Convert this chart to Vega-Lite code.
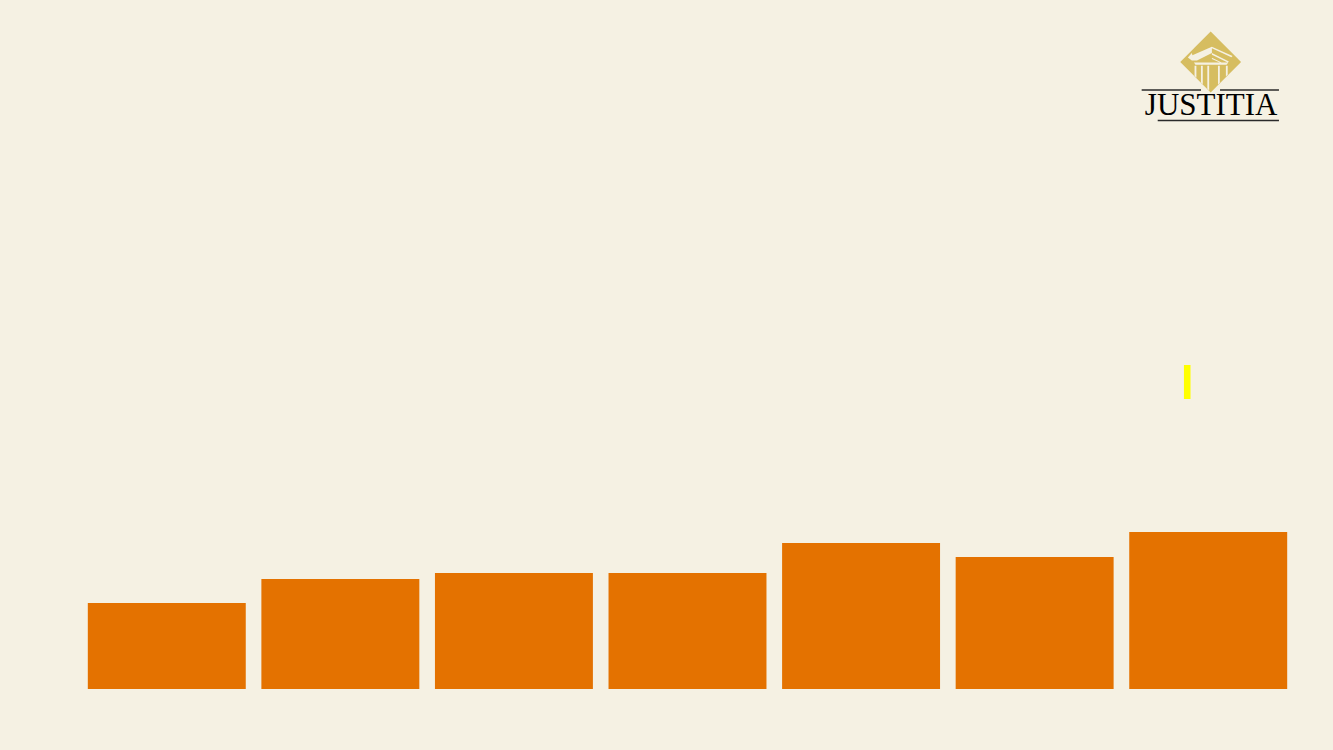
{
  "$schema": "https://vega.github.io/schema/vega-lite/v6.json",
  "width": 1215,
  "height": 689,
  "padding": {"left": 80, "top": 0, "right": 38, "bottom": 61},
  "autosize": {"type": "none"},
  "background": "#f5f1e3",
  "view": {"stroke": null},
  "config": {"axis": {"disable": true}},
  "resolve": {"scale": {"x": "independent"}},
  "layer": [
    {
      "data": {"values": [
        {"category": "A", "value": 8.6},
        {"category": "B", "value": 11.0},
        {"category": "C", "value": 11.6},
        {"category": "D", "value": 11.6},
        {"category": "E", "value": 14.6},
        {"category": "F", "value": 13.2},
        {"category": "G", "value": 15.7}
      ]},
      "mark": {"type": "bar", "color": "#e47200"},
      "encoding": {
        "x": {"field": "category", "type": "nominal", "scale": {"paddingInner": 0.09, "paddingOuter": 0.045}, "axis": null},
        "y": {"field": "value", "type": "quantitative", "scale": {"domain": [0, 68.9], "nice": false}, "axis": null}
      }
    },
    {
      "data": {"values": [
        {"a": 0.9086, "b": 0.914, "lo": 29.0, "hi": 32.4}
      ]},
      "mark": {"type": "rect", "color": "#ffff00"},
      "encoding": {
        "x": {"field": "a", "type": "quantitative", "scale": {"domain": [0, 1], "nice": false, "zero": false}, "axis": null},
        "x2": {"field": "b"},
        "y": {"field": "lo", "type": "quantitative", "axis": null},
        "y2": {"field": "hi"}
      }
    },
    {
      "data": {"values": [{"a": 0.9306, "v": 62.7}]},
      "mark": {"type": "point", "filled": true, "opacity": 1, "color": "#d6bd60", "size": 3700, "shape": "M0,-1L1,0L0,1L-1,0Z"},
      "encoding": {
        "x": {"field": "a", "type": "quantitative", "scale": {"domain": [0, 1], "nice": false, "zero": false}, "axis": null},
        "y": {"field": "v", "type": "quantitative", "axis": null}
      }
    },
    {
      "data": {"values": [{"a": 0.9306, "v": 62.7}]},
      "mark": {"type": "point", "filled": true, "opacity": 1, "color": "#f5f1e3", "size": 3700, "shape": "M-0.75,-0.15L-0.62,-0.3L-0.6,-0.22L0.04,-0.5L0.04,-0.3L-0.45,-0.05L-0.62,-0.05ZM0.04,-0.5L0.72,-0.2L0.68,-0.16L0.04,-0.45ZM0.04,-0.3L0.6,-0.02L0.56,0.02L0.04,-0.24ZM0.04,-0.14L0.36,0.02L0.3,0.02L0.04,-0.1ZM-0.55,0.02L0.58,0.02L0.52,0.09L-0.5,0.09ZM-0.53,0.12L-0.47,0.12L-0.47,0.52L-0.53,0.46ZM-0.32,0.12L-0.26,0.12L-0.26,0.73L-0.32,0.67ZM-0.11,0.12L-0.05,0.12L-0.05,0.94L-0.11,0.88ZM0.24,0.12L0.3,0.12L0.3,0.68L0.24,0.75ZM0.5,0.12L0.56,0.12L0.56,0.42L0.5,0.48Z"},
      "encoding": {
        "x": {"field": "a", "type": "quantitative", "scale": {"domain": [0, 1], "nice": false, "zero": false}, "axis": null},
        "y": {"field": "v", "type": "quantitative", "axis": null}
      }
    },
    {
      "data": {"values": [
        {"a": 0.8738, "b": 0.9226, "v": 59.9},
        {"a": 0.9383, "b": 0.9868, "v": 59.9},
        {"a": 0.887, "b": 0.9868, "v": 56.85}
      ]},
      "mark": {"type": "rule", "color": "#2a2a2a", "strokeWidth": 1.4},
      "encoding": {
        "x": {"field": "a", "type": "quantitative", "scale": {"domain": [0, 1], "nice": false, "zero": false}, "axis": null},
        "x2": {"field": "b"},
        "y": {"field": "v", "type": "quantitative", "axis": null}
      }
    },
    {
      "data": {"values": [{"a": 0.931, "v": 58.35, "label": "JUSTITIA"}]},
      "mark": {"type": "text", "font": "Liberation Serif", "fontSize": 31, "color": "#000000", "align": "center", "baseline": "middle"},
      "encoding": {
        "x": {"field": "a", "type": "quantitative", "scale": {"domain": [0, 1], "nice": false, "zero": false}, "axis": null},
        "y": {"field": "v", "type": "quantitative", "axis": null},
        "text": {"field": "label"}
      }
    }
  ]
}
